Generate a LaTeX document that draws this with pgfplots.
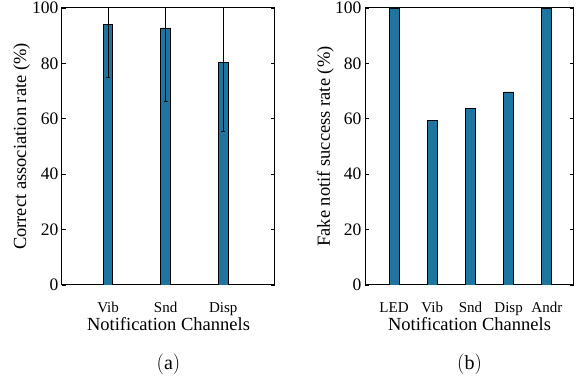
\documentclass[border=0pt]{standalone}
\usepackage{fontspec}
\setmainfont{Liberation Serif}
\usepackage{pgfplots}
\pgfplotsset{compat=1.18}
\definecolor{barblue}{RGB}{30,118,160}
\pgfplotsset{
  panel/.style={
    scale only axis, height=277pt,
    ymin=0, ymax=100, ytick={0,20,40,60,80,100},
    yticklabels={0,20,40,60,80,100},
    ytick pos=both, tick align=inside,
    xtick=data, xtick style={draw=none},
    ytick style={black, line width=0.6pt},
    major tick length=4pt,
    axis line style={line width=1pt},
    y tick label style={font=\fontsize{17.5}{17.5}\selectfont},
    x tick label style={font=\fontsize{15}{15}\selectfont, anchor=base, yshift=-24pt},
    label style={font=\fontsize{18.5}{18.5}\selectfont},
    xlabel style={at={(axis description cs:0.5,-0.1625)}, anchor=base},
    ylabel style={at={(axis description cs:-0.169,0.5)}, anchor=base},
    ybar, bar width=9.5pt,
    xlabel={Notification Channels},
  }
}
\begin{document}
\begin{tikzpicture}[x=1pt,y=1pt]
\path[use as bounding box] (0,0) rectangle (582,382);
\begin{axis}[panel, at={(62pt,97pt)}, anchor=south west, width=213pt,
  xmin=-0.8, xmax=2.9,
  xticklabels={Vib,Snd,Disp},
  ylabel={Correct association rate (\%)}]
\addplot[fill=barblue, draw=black, line width=0.8pt,
  error bars/.cd, y dir=both, y explicit, error mark=|,
  error bar style={black, line width=0.8pt},
  error mark options={black, mark size=2pt, line width=0.8pt}]
  coordinates {(0,94.1) +- (0,19.3) (1,92.8) +- (0,26.4) (2,80.4) +- (0,25.1)};
\end{axis}
\begin{axis}[panel, at={(365pt,97pt)}, anchor=south west, width=209pt,
  xmin=-0.76, xmax=4.71, bar width=10pt,
  xticklabels={LED,Vib,Snd,Disp,Andr},
  ylabel style={at={(axis description cs:-0.1675,0.5)}},
  ylabel={Fake notif success rate (\%)}]
\addplot[fill=barblue, draw=black, line width=0.8pt]
  coordinates {(0,100) (1,59.4) (2,63.7) (3,69.7) (4,100)};
\end{axis}
\node at (168.5,18) {\fontsize{20}{20}\selectfont$\mathrm{(a)}$};
\node at (469.5,18) {\fontsize{20}{20}\selectfont$\mathrm{(b)}$};
\end{tikzpicture}
\end{document}
